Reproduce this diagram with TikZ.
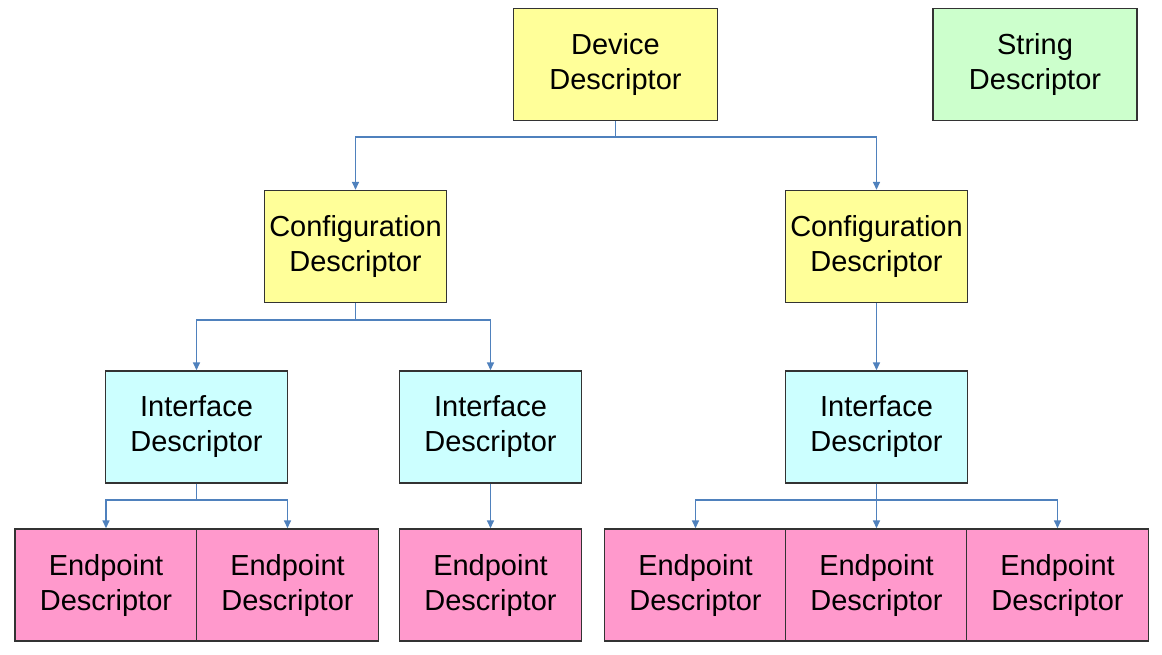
\documentclass[tikz,border=0pt]{standalone}
\usepackage{fontspec}
\setmainfont{Liberation Sans}
\usetikzlibrary{arrows.meta}
\definecolor{cyel}{HTML}{FFFF99}
\definecolor{cgrn}{HTML}{CCFFCC}
\definecolor{ccyn}{HTML}{CCFFFF}
\definecolor{cpnk}{HTML}{FF99CC}
\definecolor{cline}{HTML}{4F81BD}
\definecolor{cbord}{HTML}{333333}
\tikzset{
  desc/.style={draw=cbord, line width=1.4pt, minimum width=182pt, minimum height=112pt, inner sep=0pt,
    align=center, font=\fontsize{29}{35}\selectfont, text=black},
  wide/.style={desc, minimum width=204pt},
  conn/.style={draw=cline, line width=1.5pt},
  arr/.style={conn, -{Triangle[length=8pt,width=7pt]}}
}
\begin{document}
\begin{tikzpicture}[x=1pt,y=-1pt]
\useasboundingbox[fill=white] (0,0) rectangle (1162,655);
\node[wide, fill=cyel] (dev) at (615.5,64.5) {Device\\Descriptor};
\node[wide, fill=cgrn] (str) at (1035,64.5) {String\\Descriptor};
\node[desc, fill=cyel] (cfgA) at (355.5,246.5) {Configuration\\Descriptor};
\node[desc, fill=cyel] (cfgB) at (876.5,246.5) {Configuration\\Descriptor};
\node[desc, fill=ccyn] (ifA) at (196.5,427) {Interface\\Descriptor};
\node[desc, fill=ccyn] (ifB) at (490.5,427) {Interface\\Descriptor};
\node[desc, fill=ccyn] (ifC) at (876.5,427) {Interface\\Descriptor};
\node[desc, fill=cpnk] (ep1) at (106,585) {Endpoint\\Descriptor};
\node[desc, fill=cpnk] (ep2) at (287.5,585) {Endpoint\\Descriptor};
\node[desc, fill=cpnk] (ep3) at (490.5,585) {Endpoint\\Descriptor};
\node[desc, fill=cpnk] (ep4) at (695.5,585) {Endpoint\\Descriptor};
\node[desc, fill=cpnk] (ep5) at (876.5,585) {Endpoint\\Descriptor};
\node[desc, fill=cpnk] (ep6) at (1057.5,585) {Endpoint\\Descriptor};
\coordinate (j1) at (615.5,137);
\coordinate (j2) at (355.5,320);
\coordinate (j3) at (196.5,500);
\coordinate (j4) at (876.5,500);
\draw[conn] (dev.south) -- (j1);
\draw[arr] (j1) -| (cfgA.north);
\draw[arr] (j1) -| (cfgB.north);
\draw[conn] (cfgA.south) -- (j2);
\draw[arr] (j2) -| (ifA.north);
\draw[arr] (j2) -| (ifB.north);
\draw[arr] (cfgB.south) -- (ifC.north);
\draw[conn] (ifA.south) -- (j3);
\draw[arr] (j3) -| (ep1.north);
\draw[arr] (j3) -| (ep2.north);
\draw[arr] (ifB.south) -- (ep3.north);
\draw[conn] (ifC.south) -- (j4);
\draw[arr] (j4) -| (ep4.north);
\draw[arr] (j4) -- (ep5.north);
\draw[arr] (j4) -| (ep6.north);
\end{tikzpicture}
\end{document}
